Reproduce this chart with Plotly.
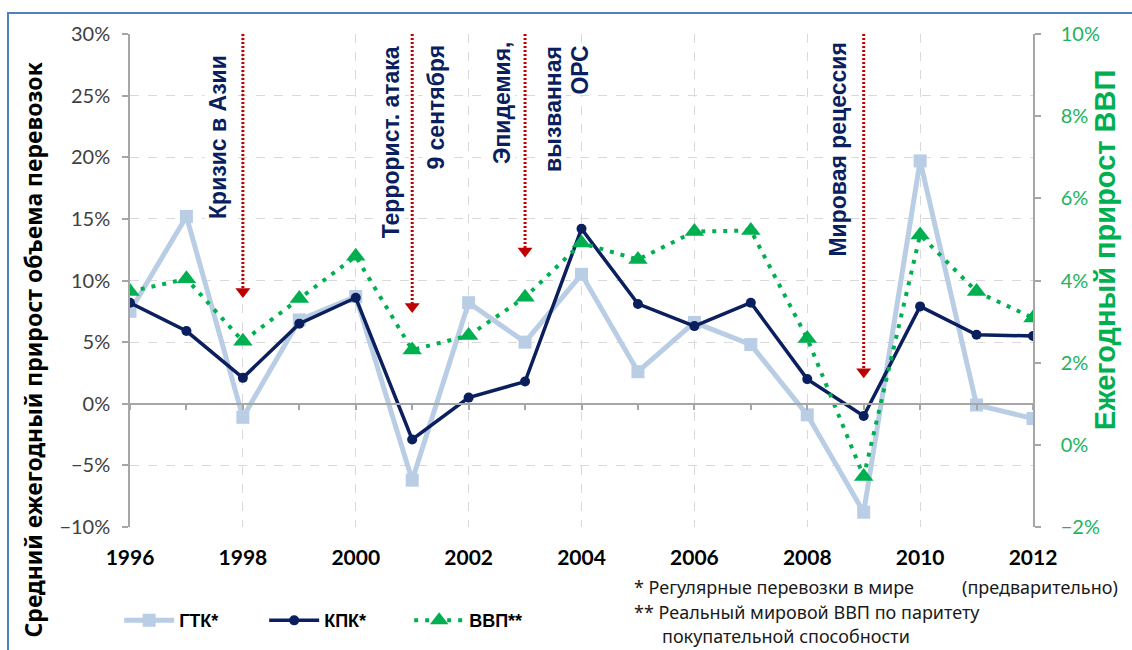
import plotly.graph_objects as go

# Years on the category axis
years = list(range(1996, 2013))

# Average yearly growth of traffic volume, % (left axis)
gtk = [7.5, 15.2, -1.1, 6.8, 8.7, -6.2, 8.2, 5.0, 10.5, 2.6, 6.6, 4.8, -0.9, -8.8, 19.7, -0.1, -1.2]
kpk = [8.2, 5.9, 2.1, 6.5, 8.6, -2.9, 0.5, 1.8, 14.2, 8.1, 6.3, 8.2, 2.0, -1.0, 7.9, 5.6, 5.5]
# Yearly world GDP growth, % (right axis)
gdp = [3.73, 4.04, 2.52, 3.56, 4.59, 2.31, 2.66, 3.59, 4.91, 4.51, 5.19, 5.22, 2.59, -0.77, 5.11, 3.73, 3.09]

# Event markers: year, where the arrow ends (left-axis %)
event_years = [1998, 2001, 2003, 2009]
event_tips = [8.6, 7.4, 11.9, 2.1]

# Event captions: text, x (year units), y centre (left-axis %)
event_texts = ["Кризис в Азии", "Террорист. атака", "9 сентября", "Эпидемия,",
               "вызванная", "ОРС", "Мировая рецессия"]
event_text_x = [1997.56, 2000.64, 2001.42, 2002.59, 2003.49, 2003.97, 2008.54]
event_text_y = [21.65, 21.2, 24.1, 24.4, 23.9, 27.1, 20.6]

y_left_range = [-10, 30]
y_right_range = [-2, 10]

LIGHT_BLUE = "#B9CDE5"
NAVY = "#0B1F5E"
GREEN = "#00B050"
RED = "#C00000"
GRID = "#D9D9D9"
AXIS = "#A6A6A6"

ARIAL = "Liberation Sans"
CAL = "Noto Sans"
NUM = "Lato"

fig = go.Figure()

# Event arrows: dotted shaft plus a triangular head
for yr, tip in zip(event_years, event_tips):
    fig.add_trace(go.Scatter(
        x=[yr, yr], y=[y_left_range[1], tip + 0.5], mode="lines",
        line=dict(color=RED, width=3, dash="2px,2px"),
        xaxis="x2", yaxis="y", showlegend=False, hoverinfo="skip"))
fig.add_trace(go.Scatter(
    x=event_years, y=[t + 0.5 for t in event_tips], mode="markers",
    marker=dict(symbol="triangle-down", size=13, color=RED),
    xaxis="x2", yaxis="y", showlegend=False, hoverinfo="skip"))

fig.add_trace(go.Scatter(
    x=years, y=gtk, name="ГТК*", mode="lines+markers",
    line=dict(color=LIGHT_BLUE, width=5),
    marker=dict(symbol="square", size=13, color=LIGHT_BLUE),
    yaxis="y"))
fig.add_trace(go.Scatter(
    x=years, y=kpk, name="КПК*", mode="lines+markers",
    line=dict(color=NAVY, width=3.5),
    marker=dict(symbol="circle", size=10, color=NAVY),
    yaxis="y"))
fig.add_trace(go.Scatter(
    x=years, y=gdp, name="ВВП**", mode="lines+markers",
    line=dict(color=GREEN, width=4, dash="4px,7px"),
    marker=dict(symbol="triangle-up", size=17, color=GREEN),
    yaxis="y2"))

annotations = []
for txt, ex, ey in zip(event_texts, event_text_x, event_text_y):
    annotations.append(dict(
        x=ex, y=ey, xref="x", yref="y", text=txt, showarrow=False,
        textangle=-90, xanchor="center", yanchor="middle",
        font=dict(family=ARIAL, size=23, color=NAVY, weight="bold"),
        bgcolor="white", borderpad=0))

# Axis titles
annotations.append(dict(
    x=-0.1074, y=0.36, xref="paper", yref="paper",
    text="Средний ежегодный прирост объема перевозок", showarrow=False,
    textangle=-90, xanchor="center", yanchor="middle",
    font=dict(family=CAL, size=23, color="#000000", weight="bold")))
annotations.append(dict(
    x=1.08, y=0.562, xref="paper", yref="paper",
    text="Ежегодный прирост ВВП", showarrow=False,
    textangle=-90, xanchor="center", yanchor="middle",
    font=dict(family=ARIAL, size=29, color=GREEN, weight="bold")))

# Footnotes
foot_font = dict(family=CAL, size=18, color="#1A1A1A")
annotations += [
    dict(x=0.556, y=-0.1217, xref="paper", yref="paper", xanchor="left", yanchor="middle",
         text="* Регулярные перевозки в мире", showarrow=False, font=foot_font),
    dict(x=0.919, y=-0.1217, xref="paper", yref="paper", xanchor="left", yanchor="middle",
         text="(предварительно)", showarrow=False, font=foot_font),
    dict(x=0.556, y=-0.1724, xref="paper", yref="paper", xanchor="left", yanchor="middle",
         text="** Реальный мировой ВВП по паритету", showarrow=False, font=foot_font),
    dict(x=0.587, y=-0.221, xref="paper", yref="paper", xanchor="left", yanchor="middle",
         text="покупательной способности", showarrow=False, font=foot_font),
]

fig.update_layout(
    width=1132, height=650,
    margin=dict(l=130, r=99, t=34, b=123, autoexpand=False),
    paper_bgcolor="white", plot_bgcolor="white",
    xaxis=dict(
        range=[1996, 2012], tickvals=years[::2], ticktext=[str(y) for y in years[::2]],
        showgrid=True, gridcolor=GRID, griddash="dash", gridwidth=1,
        ticks="", showline=False, zeroline=False, ticklabelstandoff=16,
        tickfont=dict(family=NUM, size=21, color="#000000", weight="bold")),
    xaxis2=dict(
        range=[1996, 2012], overlaying="x", anchor="free", position=0.25,
        matches="x", showline=True, linecolor=AXIS, linewidth=1.5,
        ticks="outside", ticklen=5, tickcolor=AXIS, tickwidth=1.5,
        tick0=1996, dtick=1, showticklabels=False, showgrid=False, zeroline=False),
    yaxis=dict(
        range=y_left_range, dtick=5, ticksuffix="%",
        showgrid=True, gridcolor=GRID, griddash="dash", gridwidth=1,
        showline=True, linecolor=AXIS, linewidth=1.5,
        ticks="outside", ticklen=6, tickcolor=AXIS, tickwidth=1.5,
        zeroline=False, ticklabelstandoff=8,
        tickfont=dict(family=NUM, size=20, color="#404040")),
    yaxis2=dict(
        range=y_right_range, dtick=2, ticksuffix="%", overlaying="y", side="right",
        showgrid=False, showline=True, linecolor=AXIS, linewidth=1.5,
        ticks="outside", ticklen=6, tickcolor=AXIS, tickwidth=1.5,
        zeroline=False, ticklabelstandoff=16,
        tickfont=dict(family=NUM, size=20, color="#21B35B")),
    legend=dict(
        orientation="h", x=-0.012, y=-0.19, xanchor="left", yanchor="middle",
        font=dict(family=ARIAL, size=18, color="#000000", weight="bold"),
        entrywidth=80, entrywidthmode="pixels", itemwidth=50,
        bgcolor="rgba(0,0,0,0)"),
    annotations=annotations,
    shapes=[dict(
        type="rect", xref="paper", yref="paper",
        x0=(8 - 130) / 903, x1=1.3, y0=-0.5, y1=(527 - 13) / 493,
        line=dict(color="#4F81BD", width=2), fillcolor="rgba(0,0,0,0)", layer="below")],
    showlegend=True,
)

fig.write_html("out.html")
